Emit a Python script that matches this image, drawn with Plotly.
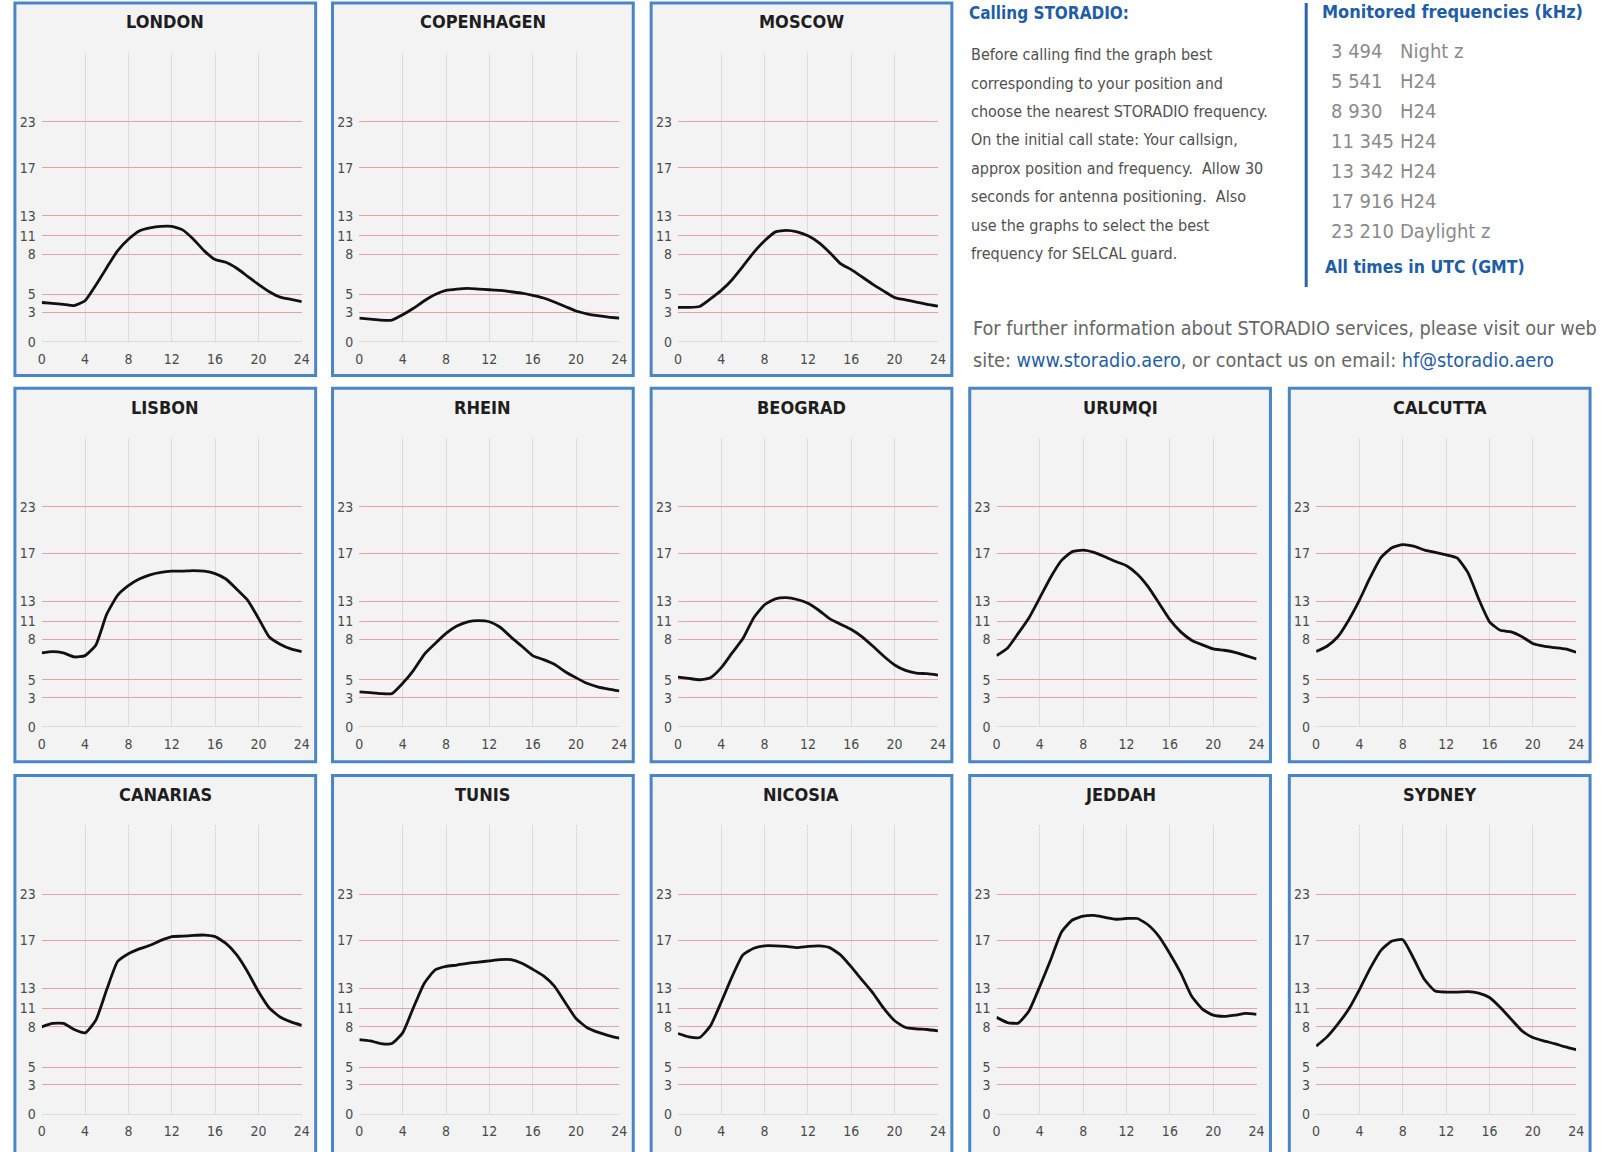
import numpy as np
import plotly.graph_objects as go

W, H = 1606, 1152

# ---------------- data ----------------
HOURS = list(range(25))
X_TICKS = [0, 4, 8, 12, 16, 20, 24]
Y_TICK_LABELS = [0, 3, 5, 8, 11, 13, 17, 23]   # MHz bands shown on the y axis

LONDON = [4.1, 4.0, 3.9, 3.75, 4.3, 5.7, 7.0, 8.55, 10.45, 11.5, 11.8, 11.95, 11.95, 11.6, 10.45, 8.55, 7.6, 7.4, 6.95, 6.35, 5.75, 5.2, 4.7, 4.45, 4.2]
COPENHAGEN = [2.4, 2.3, 2.2, 2.2, 2.75, 3.45, 4.3, 5.0, 5.3, 5.4, 5.45, 5.4, 5.35, 5.3, 5.2, 5.1, 4.9, 4.6, 4.15, 3.65, 3.15, 2.85, 2.65, 2.5, 2.4]
MOSCOW = [3.55, 3.55, 3.65, 4.5, 5.3, 6.1, 7.1, 8.3, 10.2, 11.4, 11.55, 11.4, 11.0, 9.9, 8.3, 7.3, 6.85, 6.3, 5.75, 5.25, 4.65, 4.4, 4.15, 3.9, 3.7]
LISBON = [7.0, 7.1, 7.0, 6.7, 6.8, 7.6, 11.7, 13.5, 14.3, 14.85, 15.2, 15.4, 15.5, 15.5, 15.55, 15.5, 15.3, 14.85, 14.0, 13.1, 11.3, 8.4, 7.65, 7.3, 7.1]
RHEIN = [3.65, 3.55, 3.45, 3.45, 4.6, 5.7, 6.9, 7.7, 9.0, 10.2, 10.9, 11.05, 10.9, 10.0, 8.4, 7.5, 6.8, 6.5, 6.15, 5.6, 5.15, 4.6, 4.2, 3.95, 3.75]
BEOGRAD = [5.2, 5.1, 5.0, 5.15, 5.9, 7.0, 8.15, 11.35, 12.65, 13.2, 13.3, 13.15, 12.8, 12.1, 11.25, 10.5, 9.65, 8.45, 7.5, 6.75, 6.1, 5.7, 5.5, 5.45, 5.35]
URUMQI = [6.8, 7.35, 9.0, 11.35, 13.3, 15.0, 16.4, 17.2, 17.4, 17.1, 16.7, 16.3, 15.95, 15.25, 14.2, 12.8, 11.15, 9.25, 7.95, 7.6, 7.3, 7.2, 7.05, 6.8, 6.55]
CALCUTTA = [7.1, 7.5, 8.45, 11.1, 13.1, 15.0, 16.65, 17.7, 18.1, 17.9, 17.4, 17.1, 16.85, 16.6, 15.4, 13.2, 10.9, 9.5, 9.25, 8.45, 7.7, 7.5, 7.4, 7.3, 7.05]
CANARIAS = [8.0, 8.55, 8.55, 7.8, 7.55, 9.1, 12.9, 15.25, 15.9, 16.3, 16.6, 17.0, 17.5, 17.55, 17.65, 17.7, 17.5, 16.75, 15.8, 14.4, 12.7, 11.05, 9.6, 8.8, 8.25]
TUNIS = [7.05, 6.95, 6.75, 6.75, 7.55, 11.1, 13.45, 14.55, 14.85, 14.95, 15.1, 15.2, 15.3, 15.4, 15.4, 15.1, 14.6, 14.05, 13.2, 11.6, 9.35, 7.95, 7.6, 7.35, 7.15]
NICOSIA = [7.5, 7.25, 7.2, 8.15, 11.65, 14.0, 15.8, 16.35, 16.55, 16.55, 16.5, 16.4, 16.5, 16.55, 16.4, 15.8, 14.8, 13.7, 12.55, 11.0, 9.0, 7.95, 7.85, 7.8, 7.7]
JEDDAH = [9.55, 8.7, 8.6, 10.6, 13.2, 15.4, 18.1, 19.65, 20.15, 20.25, 20.0, 19.75, 19.85, 19.85, 19.0, 17.5, 15.9, 14.3, 12.25, 10.9, 9.9, 9.7, 9.9, 10.2, 10.05]
SYDNEY = [6.55, 7.25, 8.45, 10.9, 12.9, 14.7, 16.2, 16.95, 17.1, 15.5, 13.75, 12.75, 12.65, 12.65, 12.7, 12.55, 12.1, 11.1, 9.25, 7.7, 7.2, 6.95, 6.75, 6.5, 6.3]

PANELS = [
    ("LONDON", LONDON, 0, 0), ("COPENHAGEN", COPENHAGEN, 0, 1), ("MOSCOW", MOSCOW, 0, 2),
    ("LISBON", LISBON, 1, 0), ("RHEIN", RHEIN, 1, 1), ("BEOGRAD", BEOGRAD, 1, 2),
    ("URUMQI", URUMQI, 1, 3), ("CALCUTTA", CALCUTTA, 1, 4),
    ("CANARIAS", CANARIAS, 2, 0), ("TUNIS", TUNIS, 2, 1), ("NICOSIA", NICOSIA, 2, 2),
    ("JEDDAH", JEDDAH, 2, 3), ("SYDNEY", SYDNEY, 2, 4),
]

FREQS = ["3 494", "5 541", "8 930", "11 345", "13 342", "17 916", "23 210"]
FREQ_NOTES = ["Night z", "H24", "H24", "H24", "H24", "H24", "Daylight z"]

CALL_TEXT = [
    "Before calling find the graph best",
    "corresponding to your position and",
    "choose the nearest STORADIO frequency.",
    "On the initial call state: Your callsign,",
    "approx position and frequency.  Allow 30",
    "seconds for antenna positioning.  Also",
    "use the graphs to select the best",
    "frequency for SELCAL guard.",
]

# ---------------- non-linear y scale (band spacing as printed) ----------------
Y_TICK_POS = [0, 29.5, 47.5, 88, 106.5, 126.5, 175, 221.5]
Y_TOP = 291.0


def yscale(v):
    return np.interp(v, Y_TICK_LABELS, Y_TICK_POS)


# ---------------- layout geometry (px) ----------------
COL_LEFT = [11, 331, 652, 973, 1295]
ROW_TOP = [3, 391, 781]
ROW_BOTTOM = [378, 767, 1165]
PANEL_W = 303

FONT_N = "DejaVu Sans Condensed, Liberation Sans Narrow, Arial Narrow, sans-serif"
BLUE_TXT = "#1f5ea6"
BORDER = "#4a86c5"


def fx(px):
    return px / W


def fy(py):
    return 1 - py / H


fig = go.Figure()
layout = dict(
    width=W, height=H, margin=dict(l=0, r=0, t=0, b=0),
    paper_bgcolor="white", plot_bgcolor="rgba(0,0,0,0)",
    showlegend=False, shapes=[], annotations=[],
)

for i, (name, vals, r, c) in enumerate(PANELS, start=1):
    left = COL_LEFT[c]
    top = ROW_TOP[r]
    bottom = ROW_BOTTOM[r]
    layout["shapes"].append(dict(
        type="rect", xref="paper", yref="paper",
        x0=fx(left), x1=fx(left + PANEL_W), y0=fy(bottom), y1=fy(top),
        fillcolor="#f3f3f3", line=dict(color=BORDER, width=3), layer="below"))
    layout["annotations"].append(dict(
        text=name, xref="paper", yref="paper",
        x=fx(left + PANEL_W / 2), y=fy(top + 19), xanchor="center", yanchor="middle",
        showarrow=False, font=dict(family=FONT_N, size=18, color="#1e1e1e", weight=700)))

    sx = "" if i == 1 else str(i)
    xa = dict(
        domain=[fx(left + 27), fx(left + 289)], anchor="y" + sx,
        range=[0, 24], tickvals=X_TICKS, ticktext=[str(t) for t in X_TICKS],
        showgrid=True, gridcolor="#dcdcdc", gridwidth=1, zeroline=False,
        showline=False, ticks="", ticklabelstandoff=7,
        tickfont=dict(family=FONT_N, size=14, color="#4a4a4a"), fixedrange=True)
    ya = dict(
        domain=[fy(top + 341), fy(top + 50)], anchor="x" + sx,
        range=[0, Y_TOP], tickvals=Y_TICK_POS, ticktext=[str(t) for t in Y_TICK_LABELS],
        showgrid=True, gridcolor="#e6a2ac", gridwidth=1.3,
        zeroline=True, zerolinecolor="#dcdcdc", zerolinewidth=1,
        showline=False, ticks="", ticklabelstandoff=5,
        tickfont=dict(family=FONT_N, size=14, color="#4a4a4a"), fixedrange=True)
    layout["xaxis" + sx] = xa
    layout["yaxis" + sx] = ya

    fig.add_trace(go.Scatter(
        x=HOURS, y=yscale(vals), mode="lines",
        line=dict(color="#111111", width=2.8, shape="spline", smoothing=0.5),
        xaxis="x" + sx, yaxis="y" + sx, hoverinfo="skip"))

# ---------------- right-hand text block ----------------
ann = layout["annotations"]
ann.append(dict(text="<b>Calling STORADIO:</b>", xref="paper", yref="paper",
                x=fx(970), y=fy(13), xanchor="left", yanchor="middle", showarrow=False,
                font=dict(family=FONT_N, size=17, color=BLUE_TXT)))
for k, line in enumerate(CALL_TEXT):
    ann.append(dict(text=line, xref="paper", yref="paper",
                    x=fx(972), y=fy(55 + k * 28.6), xanchor="left", yanchor="middle",
                    showarrow=False, font=dict(family=FONT_N, size=16, color="#505050")))

layout["shapes"].append(dict(type="line", xref="paper", yref="paper",
                             x0=fx(1312), x1=fx(1312), y0=fy(289), y1=fy(3),
                             line=dict(color="#2b65a8", width=3)))
ann.append(dict(text="<b>Monitored frequencies (kHz)</b>", xref="paper", yref="paper",
                x=fx(1326), y=fy(12), xanchor="left", yanchor="middle", showarrow=False,
                font=dict(family=FONT_N, size=18, color=BLUE_TXT)))
for k, (f, note) in enumerate(zip(FREQS, FREQ_NOTES)):
    yy = fy(51 + k * 30.2)
    ann.append(dict(text=f, xref="paper", yref="paper", x=fx(1335), y=yy,
                    xanchor="left", yanchor="middle", showarrow=False,
                    font=dict(family=FONT_N, size=20, color="#8a8a8a")))
    ann.append(dict(text=note, xref="paper", yref="paper", x=fx(1404), y=yy,
                    xanchor="left", yanchor="middle", showarrow=False,
                    font=dict(family=FONT_N, size=20, color="#8a8a8a")))
ann.append(dict(text="<b>All times in UTC (GMT)</b>", xref="paper", yref="paper",
                x=fx(1329), y=fy(269), xanchor="left", yanchor="middle", showarrow=False,
                font=dict(family=FONT_N, size=17.5, color=BLUE_TXT)))

ann.append(dict(text="For further information about STORADIO services, please visit our web",
                xref="paper", yref="paper", x=fx(974), y=fy(331), xanchor="left",
                yanchor="middle", showarrow=False,
                font=dict(family=FONT_N, size=19.7, color="#666666")))
ann.append(dict(text=("site: <span style='color:%s'>www.storadio.aero</span>, or contact us on email: "
                      "<span style='color:%s'>hf@storadio.aero</span>") % (BLUE_TXT, BLUE_TXT),
                xref="paper", yref="paper", x=fx(974), y=fy(363), xanchor="left",
                yanchor="middle", showarrow=False,
                font=dict(family=FONT_N, size=19.7, color="#666666")))

fig.update_layout(**layout)
fig.write_html("out.html", config={"displayModeBar": False},
               post_script="document.body.style.margin='0';document.body.style.overflow='hidden';")
